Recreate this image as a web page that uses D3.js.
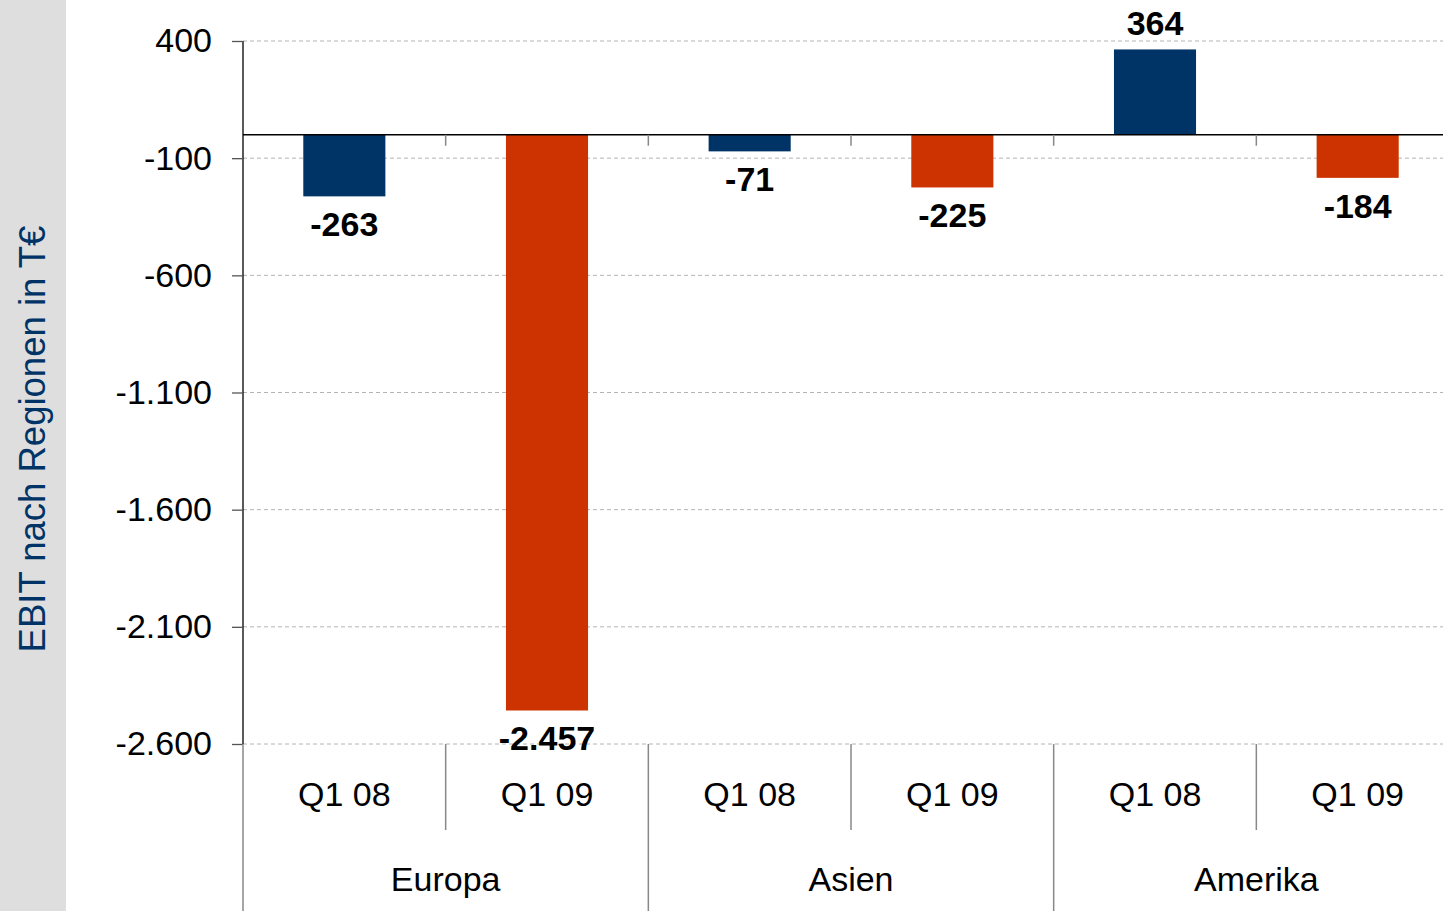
<!DOCTYPE html>
<html>
<head>
<meta charset="utf-8">
<script src="https://cdn.jsdelivr.net/npm/d3@7"></script>
<style>
  html, body { margin: 0; padding: 0; background: #fff; overflow: hidden; }
  text { font-family: "Liberation Sans", Arial, sans-serif; }
</style>
</head>
<body>
<svg id="chart" width="1443" height="911"></svg>
<script>
// data
const regions = ["Europa", "Asien", "Amerika"];
const periods = ["Q1 08", "Q1 09"];
const ebitQ108 = [-263, -71, 364];
const ebitQ109 = [-2457, -225, -184];
const yTicks = [400, -100, -600, -1100, -1600, -2100, -2600];
const yTitle = "EBIT nach Regionen in T€";

const seriesColor = {"Q1 08": "#003366", "Q1 09": "#cc3300"};

const rows = [];
regions.forEach((r, i) => {
    rows.push({region: r, period: periods[0], value: ebitQ108[i]});
    rows.push({region: r, period: periods[1], value: ebitQ109[i]});
});

const de = d3.formatLocale({decimal: ",", thousands: ".", grouping: [3], currency: ["", " €"], minus: "-"});
const fmt = de.format(",d");

const svg = d3.select("#chart");
const plot = {left: 243, right: 1459, top: 41, bottom: 744, visibleRight: 1443};

// grey side band with the axis title
svg.append("rect")
    .attr("x", 0).attr("y", 0)
    .attr("width", 66).attr("height", 911)
    .attr("fill", "#dedede");

svg.append("text")
    .attr("transform", "translate(45,439) rotate(-90)")
    .attr("text-anchor", "middle")
    .attr("font-size", 36.5)
    .attr("fill", "#003366")
    .text(yTitle);

const x0 = d3.scaleBand().domain(regions).range([plot.left, plot.right]);
const x1 = d3.scaleBand().domain(periods).range([0, x0.bandwidth()])
    .paddingInner(0.595).paddingOuter(0.2975);
const slot = x0.bandwidth() / periods.length;

const y = d3.scaleLinear().domain([-2600, 400]).range([plot.bottom, plot.top]);

// grid
const grid = svg.append("g").attr("class", "grid");
grid.selectAll("line")
    .data(yTicks)
    .enter().append("line")
    .attr("x1", plot.left).attr("x2", plot.visibleRight)
    .attr("y1", d => y(d)).attr("y2", d => y(d))
    .attr("stroke", "#b4b4b4")
    .attr("stroke-width", 1)
    .attr("stroke-dasharray", "4,3");

// y axis
const axisY = d3.axisLeft(y).tickValues(yTicks).tickFormat(fmt).tickSize(11).tickPadding(20);
const axisYG = svg.append("g")
    .attr("class", "axis axisY")
    .attr("transform", `translate(${plot.left},0)`)
    .call(axisY);
axisYG.select(".domain").attr("stroke", "#000").attr("stroke-width", 1.3)
    .attr("d", `M0,${plot.top}V${plot.bottom}`);
axisYG.selectAll(".tick line").attr("stroke", "#555").attr("stroke-width", 1.3);
axisYG.selectAll(".tick text")
    .attr("font-size", 34)
    .attr("fill", "#000")
    .attr("font-family", "Liberation Sans, Arial, sans-serif");

// bars
const bars = svg.append("g").attr("class", "bars");
bars.selectAll("rect")
    .data(rows)
    .enter().append("rect")
    .attr("x", d => x0(d.region) + x1(d.period))
    .attr("width", x1.bandwidth())
    .attr("y", d => y(Math.max(0, d.value)))
    .attr("height", d => Math.abs(y(d.value) - y(0)))
    .attr("fill", d => seriesColor[d.period]);

// value labels
bars.selectAll("text")
    .data(rows)
    .enter().append("text")
    .attr("x", d => x0(d.region) + x1(d.period) + x1.bandwidth() / 2)
    .attr("y", d => d.value < 0 ? y(d.value) + 40 : y(d.value) - 14)
    .attr("text-anchor", "middle")
    .attr("font-size", 34)
    .attr("font-weight", "bold")
    .attr("fill", "#000")
    .text(d => fmt(d.value));

// zero line
svg.append("line")
    .attr("x1", plot.left).attr("x2", plot.visibleRight)
    .attr("y1", y(0)).attr("y2", y(0))
    .attr("stroke", "#000").attr("stroke-width", 1.5);

// small category ticks on the zero line
const innerBounds = [];
regions.forEach(r => periods.forEach((p, j) => {
    innerBounds.push({x: x0(r) + j * slot, full: j === 0});
}));
svg.append("g").selectAll("line")
    .data(innerBounds.filter(d => d.x > plot.left))
    .enter().append("line")
    .attr("x1", d => d.x).attr("x2", d => d.x)
    .attr("y1", y(0)).attr("y2", y(0) + 11)
    .attr("stroke", "#888").attr("stroke-width", 1.5);

// category axis below the plot
const catG = svg.append("g").attr("class", "axisX");
catG.selectAll("line")
    .data(innerBounds)
    .enter().append("line")
    .attr("x1", d => d.x).attr("x2", d => d.x)
    .attr("y1", plot.bottom).attr("y2", d => d.full ? 911 : 830)
    .attr("stroke", "#888").attr("stroke-width", 1.5);

catG.selectAll("text.period")
    .data(rows)
    .enter().append("text")
    .attr("class", "period")
    .attr("x", d => x0(d.region) + x1(d.period) + x1.bandwidth() / 2)
    .attr("y", 806)
    .attr("text-anchor", "middle")
    .attr("font-size", 34)
    .attr("fill", "#000")
    .text(d => d.period);

catG.selectAll("text.region")
    .data(regions)
    .enter().append("text")
    .attr("class", "region")
    .attr("x", d => x0(d) + x0.bandwidth() / 2)
    .attr("y", 891)
    .attr("text-anchor", "middle")
    .attr("font-size", 34)
    .attr("fill", "#000")
    .text(d => d);
</script>
</body>
</html>
